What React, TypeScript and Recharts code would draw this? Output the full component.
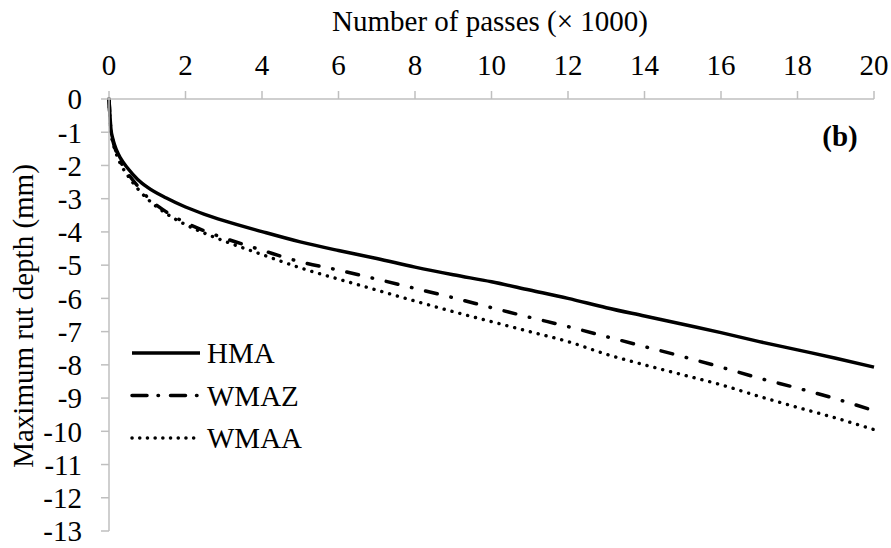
import React from 'react';
import { LineChart, Line, XAxis, YAxis, Customized } from 'recharts';

const passes = [0, 0.05, 0.1, 0.2, 0.3, 0.5, 0.75, 1, 1.5, 2, 2.5, 3, 4, 5, 6, 7, 8, 9, 10, 11, 12, 13, 14, 15, 16, 17, 18, 19, 20];
const hma = [0, -0.9, -1.2, -1.55, -1.78, -2.1, -2.42, -2.65, -2.98, -3.25, -3.47, -3.66, -3.99, -4.3, -4.56, -4.8, -5.06, -5.29, -5.5, -5.75, -6.0, -6.28, -6.53, -6.78, -7.03, -7.3, -7.55, -7.8, -8.07];
const wmaz = [0, -0.95, -1.25, -1.62, -1.88, -2.25, -2.62, -2.95, -3.4, -3.72, -3.97, -4.18, -4.55, -4.9, -5.15, -5.42, -5.7, -5.98, -6.28, -6.57, -6.85, -7.15, -7.45, -7.75, -8.07, -8.4, -8.7, -9.02, -9.38];
const wmaa = [0, -1.0, -1.3, -1.68, -1.95, -2.32, -2.7, -3.0, -3.45, -3.78, -4.04, -4.27, -4.68, -5.08, -5.42, -5.75, -6.08, -6.4, -6.7, -7.0, -7.3, -7.68, -8.0, -8.3, -8.6, -8.95, -9.28, -9.6, -9.95];
const seriesNames = ['HMA', 'WMAZ', 'WMAA'];
const xTicks = [0, 2, 4, 6, 8, 10, 12, 14, 16, 18, 20];
const yTicks = [0, -1, -2, -3, -4, -5, -6, -7, -8, -9, -10, -11, -12, -13];
const xTitle = 'Number of passes (× 1000)';
const yTitle = 'Maximum rut depth (mm)';
const panelLabel = '(b)';

const data = passes.map((x, i) => ({ x, HMA: hma[i], WMAZ: wmaz[i], WMAA: wmaa[i] }));

const FONT = 'Liberation Serif';
const AXIS = '#bfbfbf';
const FS = 29;

const styles = [
  { strokeWidth: 3.5, strokeDasharray: undefined as string | undefined, strokeLinecap: 'butt' as const },
  { strokeWidth: 3.5, strokeDasharray: '12 14 0.5 14', strokeLinecap: 'round' as const },
  { strokeWidth: 3.4, strokeDasharray: '0.1 8', strokeLinecap: 'round' as const },
];
const legendDash = [undefined, '15 11 0.5 12', '0.1 7.6'];

const txt = { fontFamily: FONT };

export default function App() {
  return (
    <div style={{ position: 'absolute', left: 0, top: 0, width: 891, height: 548, background: '#fff', fontFamily: FONT }}>
      <LineChart width={891} height={548} data={data} margin={{ top: 0, right: 17, bottom: 17, left: 0 }} style={txt}>
        <XAxis
          dataKey="x"
          type="number"
          orientation="top"
          domain={[0, 20]}
          ticks={xTicks}
          height={99}
          tickSize={8}
          tickMargin={16}
          axisLine={{ stroke: AXIS, strokeWidth: 1.5 }}
          tickLine={{ stroke: AXIS, strokeWidth: 1.5 }}
          tick={{ fill: '#000', fontSize: FS, fontFamily: FONT, style: txt }}
          label={{
            content: () => (
              <text x={490} y={31} textAnchor="middle" style={txt} fontSize={FS} fill="#000">{xTitle}</text>
            ),
          }}
        />
        <YAxis
          type="number"
          domain={[-13, 0]}
          ticks={yTicks}
          width={109}
          tickSize={8}
          tickMargin={19}
          interval={0}
          axisLine={{ stroke: AXIS, strokeWidth: 1.5 }}
          tickLine={{ stroke: AXIS, strokeWidth: 1.5 }}
          tick={{ fill: '#000', fontSize: FS, fontFamily: FONT, style: txt }}
          label={{
            content: () => (
              <text x={33} y={316} transform="rotate(-90 33 316)" textAnchor="middle" style={txt} fontSize={FS} fill="#000">{yTitle}</text>
            ),
          }}
        />
        {seriesNames.map((n, i) => (
          <Line
            key={n}
            dataKey={n}
            name={n}
            type="monotone"
            dot={false}
            activeDot={false}
            isAnimationActive={false}
            stroke="#000"
            strokeWidth={styles[i].strokeWidth}
            strokeDasharray={styles[i].strokeDasharray}
            strokeLinecap={styles[i].strokeLinecap}
          />
        ))}
        <Customized
          component={() => (
            <g>
              {seriesNames.map((n, i) => (
                <g key={n}>
                  <line x1={132} x2={200} y1={353 + i * 42.5} y2={353 + i * 42.5} stroke="#000" strokeWidth={3.5}
                    strokeDasharray={legendDash[i]} strokeLinecap={i === 0 ? 'butt' : 'round'} />
                  <text x={207} y={363 + i * 42.5} style={txt} fontSize={FS} fill="#000">{n}</text>
                </g>
              ))}
              <text x={840} y={146} textAnchor="middle" style={txt} fontSize={FS} fontWeight="bold" fill="#000">{panelLabel}</text>
            </g>
          )}
        />
      </LineChart>
    </div>
  );
}
